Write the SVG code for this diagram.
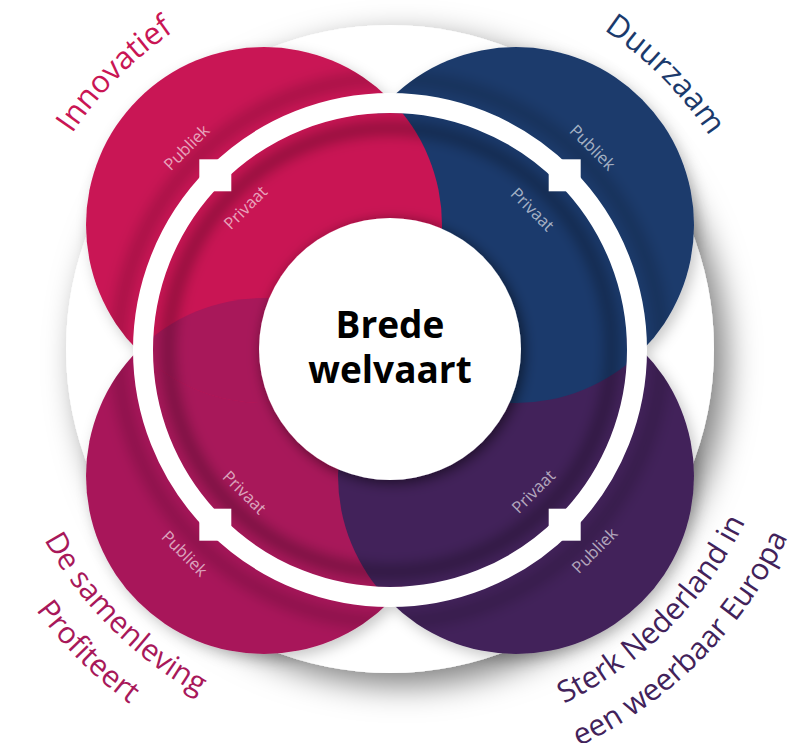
<svg xmlns="http://www.w3.org/2000/svg" width="796" height="743" viewBox="0 0 796 743">
  <defs>
    <style>
      .lbl { font-family: "Open Sans", "Noto Sans", sans-serif; font-size: 16.5px; fill: #ffffff; fill-opacity: 0.62; text-anchor: middle; dominant-baseline: central; }
      .ttl { font-family: "Open Sans", "Noto Sans", sans-serif; font-size: 30px; text-anchor: middle; }
      .ttl-top { font-size: 31px; }
      .ctr { font-family: "Open Sans", "Noto Sans", sans-serif; font-size: 37px; font-weight: bold; fill: #000; text-anchor: middle; }
      .crim { fill: #C91554; }
      .navy { fill: #1B3A6C; }
      .mag { fill: #A8185A; }
      .purp { fill: #42225A; }
    </style>
    <filter id="bigShadow" x="-20%" y="-20%" width="150%" height="150%">
      <feDropShadow dx="12" dy="12" stdDeviation="16" flood-color="#000" flood-opacity="0.5"/>
    </filter>
    <filter id="circShadow" x="-20%" y="-20%" width="150%" height="150%">
      <feDropShadow dx="4" dy="5" stdDeviation="7" flood-color="#000" flood-opacity="0.22"/>
    </filter>
    <filter id="centerShadow" x="-30%" y="-30%" width="160%" height="160%">
      <feDropShadow dx="3" dy="3" stdDeviation="7" flood-color="#000" flood-opacity="0.55"/>
    </filter>
    <filter id="blur" x="-20%" y="-20%" width="140%" height="140%">
      <feGaussianBlur stdDeviation="7"/>
    </filter>
    <clipPath id="innerDisc"><circle cx="390" cy="350" r="237"/></clipPath>
    <clipPath id="crimClip"><circle cx="264" cy="225" r="178"/></clipPath>
    <clipPath id="allCircles">
      <circle cx="264" cy="225" r="178"/>
      <circle cx="516" cy="225" r="178"/>
      <circle cx="264" cy="476" r="178"/>
      <circle cx="516" cy="476" r="178"/>
    </clipPath>
    <path id="arcTop" d="M 6,349 A 384 384 0 1 1 774,349 A 384 384 0 1 1 6,349"/>
    <path id="arcB1" d="M -5,349 A 395 395 0 1 0 785,349 A 395 395 0 1 0 -5,349"/>
    <path id="arcB2" d="M -50,349 A 440 440 0 1 0 830,349 A 440 440 0 1 0 -50,349"/>
  </defs>

  <g id="background">
    <circle cx="390" cy="349" r="324" fill="#ffffff" filter="url(#bigShadow)"/>
  </g>

  <g id="publiek" filter="url(#circShadow)">
    <circle id="innovatief-circle" class="crim" cx="264" cy="225" r="178"/>
    <circle id="duurzaam-circle" class="navy" cx="516" cy="225" r="178"/>
    <circle id="samenleving-circle" class="mag" cx="264" cy="476" r="178"/>
    <circle id="europa-circle" class="purp" cx="516" cy="476" r="178"/>
  </g>

  <g id="privaat" clip-path="url(#innerDisc)">
    <circle class="mag" cx="264" cy="476" r="178"/>
    <circle class="purp" cx="516" cy="476" r="178"/>
    <circle class="navy" cx="516" cy="225" r="178"/>
    <circle class="crim" cx="264" cy="225" r="178"/>
    <circle class="mag" cx="264" cy="476" r="178" clip-path="url(#crimClip)"/>
  </g>

  <g id="shading" clip-path="url(#allCircles)">
    <g filter="url(#blur)">
      <circle cx="390" cy="350" r="222" fill="none" stroke="#000" stroke-width="12" stroke-opacity="0.32"/>
      <circle cx="390" cy="350" r="272" fill="none" stroke="#000" stroke-width="14" stroke-opacity="0.18"/>
    </g>
  </g>

  <g id="centre">
    <circle cx="390" cy="349" r="131" fill="#ffffff" filter="url(#centerShadow)"/>
    <text class="ctr" x="390" y="338">Brede</text>
    <text class="ctr" x="390" y="383">welvaart</text>
  </g>

  <g id="connectors">
    <circle cx="390" cy="350" r="247" fill="none" stroke="#ffffff" stroke-width="20"/>
    <rect x="199.3" y="159.3" width="32" height="32" fill="#ffffff"/>
    <rect x="548.7" y="159.3" width="32" height="32" fill="#ffffff"/>
    <rect x="199.3" y="508.7" width="32" height="32" fill="#ffffff"/>
    <rect x="548.7" y="508.7" width="32" height="32" fill="#ffffff"/>
  </g>

  <g id="labels">
    <text class="lbl" transform="translate(186,147) rotate(-45)">Publiek</text>
    <text class="lbl" transform="translate(245,207) rotate(-45)">Privaat</text>
    <text class="lbl" transform="translate(593,147) rotate(45)">Publiek</text>
    <text class="lbl" transform="translate(533,209) rotate(45)">Privaat</text>
    <text class="lbl" transform="translate(185,553) rotate(45)">Publiek</text>
    <text class="lbl" transform="translate(245,492) rotate(45)">Privaat</text>
    <text class="lbl" transform="translate(594,550) rotate(-45)">Publiek</text>
    <text class="lbl" transform="translate(533,491) rotate(-45)">Privaat</text>
  </g>

  <g id="titles">
    <text class="ttl ttl-top crim"><textPath href="#arcTop" startOffset="301">Innovatief</textPath></text>
    <text class="ttl ttl-top navy"><textPath href="#arcTop" startOffset="905">Duurzaam</textPath></text>
    <text class="ttl mag"><textPath href="#arcB1" startOffset="310">De samenleving</textPath></text>
    <text class="ttl mag"><textPath href="#arcB2" startOffset="346">Profiteert</textPath></text>
    <text class="ttl purp"><textPath href="#arcB1" startOffset="931">Sterk Nederland in</textPath></text>
    <text class="ttl purp"><textPath href="#arcB2" startOffset="1037">een weerbaar Europa</textPath></text>
  </g>
</svg>
